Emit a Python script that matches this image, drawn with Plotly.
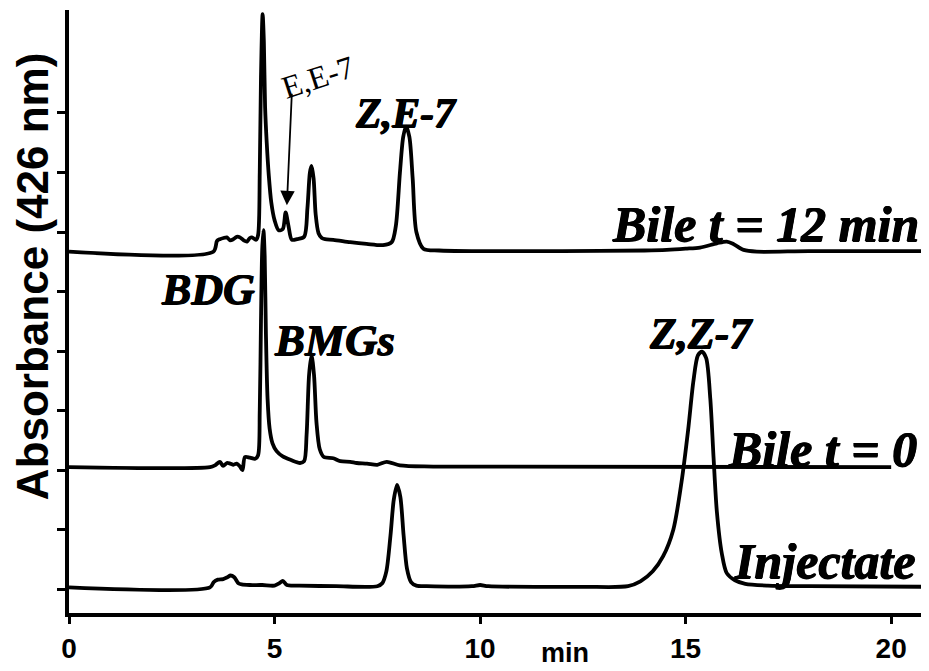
import plotly.graph_objects as go

# ---- data (retention time in min, absorbance in tick units) ----
inj_t = [0, 3.43, 3.52, 3.62, 3.75, 3.85, 3.93, 4.02, 4.12, 4.2, 4.4, 4.7, 5.0, 5.12, 5.2, 5.3, 5.6, 6.5,
         7.5, 7.62, 7.72, 7.82, 7.9, 7.98, 8.06, 8.14, 8.22, 8.32, 8.45, 8.7, 9.8, 10.0, 10.2, 12.5,
         13.6, 13.9, 14.2, 14.45, 14.7, 14.9, 15.06, 15.19, 15.3, 15.4, 15.5, 15.6, 15.68, 15.76, 15.88,
         16.0, 16.2, 16.45, 17.0, 18.0, 20.9]
inj_y = [0.03, 0.03, 0.12, 0.16, 0.17, 0.2, 0.23, 0.2, 0.1, 0.08, 0.07, 0.07, 0.06, 0.1, 0.14, 0.07, 0.06, 0.05,
         0.05, 0.1, 0.3, 0.9, 1.5, 1.75, 1.55, 0.9, 0.35, 0.12, 0.06, 0.05, 0.05, 0.07, 0.05, 0.04,
         0.05, 0.13, 0.3, 0.55, 1.0, 1.8, 2.67, 3.5, 3.93, 3.99, 3.88, 3.2, 2.2, 1.3, 0.6,
         0.27, 0.15, 0.09, 0.06, 0.05, 0.04]

bile0_t = [0, 3.43, 3.55, 3.67, 3.75, 3.84, 3.92, 4.0, 4.08, 4.16, 4.22, 4.28, 4.4, 4.53, 4.6, 4.64, 4.67,
           4.7, 4.73, 4.76, 4.79, 4.83, 4.88, 4.95, 5.05, 5.2, 5.4, 5.62, 5.72, 5.78, 5.84, 5.9, 5.96,
           6.02, 6.1, 6.2, 6.43, 6.6, 6.84, 7.0, 7.25, 7.5, 7.73, 8.05, 8.86, 20.0]
bile0_y = [2.05, 2.05, 2.08, 2.14, 2.07, 2.12, 2.11, 2.09, 2.11, 2.06, 2.0, 2.22, 2.21, 2.19, 2.25, 3.0, 4.5,
           5.7, 6.03, 5.6, 4.3, 3.2, 2.7, 2.45, 2.32, 2.23, 2.17, 2.12, 2.15, 2.6, 3.6, 3.93, 3.6,
           2.8, 2.35, 2.22, 2.2, 2.15, 2.14, 2.12, 2.11, 2.09, 2.14, 2.08, 2.06, 2.05]

bile12_t = [0, 3.51, 3.6, 3.67, 3.76, 3.84, 3.92, 4.0, 4.08, 4.16, 4.25, 4.33, 4.4, 4.45, 4.55, 4.6, 4.64,
            4.67, 4.71, 4.74, 4.77, 4.81, 4.86, 4.92, 5.0, 5.1, 5.2, 5.27, 5.34, 5.42, 5.55, 5.72, 5.8,
            5.86, 5.9, 5.95, 6.0, 6.07, 6.15, 6.23, 6.43, 6.84, 7.24, 7.64, 7.85, 7.95, 8.05, 8.13, 8.2,
            8.28, 8.36, 8.45, 8.62, 9.0, 10.0, 12.0, 14.0, 14.54, 15.0, 15.35, 15.76, 16.0, 16.16, 16.41,
            16.73, 18.0, 20.9]
bile12_y = [5.67, 5.67, 5.85, 5.88, 5.9, 5.91, 5.86, 5.88, 5.92, 5.91, 5.86, 5.84, 5.9, 5.91, 5.87, 5.95, 7.0,
            8.6, 9.66, 9.2, 8.1, 7.5, 6.95, 6.5, 6.2, 6.03, 6.05, 6.33, 6.1, 5.87, 5.88, 5.92, 6.4,
            7.0, 7.11, 6.9, 6.3, 5.98, 5.9, 5.88, 5.87, 5.83, 5.8, 5.78, 5.83, 6.1, 7.0, 7.6, 7.77,
            7.6, 6.9, 6.0, 5.72, 5.69, 5.68, 5.68, 5.69, 5.70, 5.72, 5.74, 5.81, 5.84, 5.8, 5.7,
            5.67, 5.68, 5.68]

x_ticks = [0, 5, 10, 15, 20]
y_ticks = [0, 1, 2, 3, 4, 5, 6, 7, 8]

# ---- figure ----
fig = go.Figure()
for t, y in [(bile12_t, bile12_y), (bile0_t, bile0_y), (inj_t, inj_y)]:
    fig.add_trace(go.Scatter(x=t, y=y, mode="lines", hoverinfo="skip",
                             line=dict(color="black", width=3.8, shape="spline", smoothing=0.8)))

SERIF = "Liberation Serif"
HEAVY = "0.6px 0 0 black, -0.6px 0 0 black, 0 0.5px 0 black"

def lab(text, x, y, size, xanchor="center"):
    fig.add_annotation(x=x, y=y, text="<b><i>" + text + "</i></b>", showarrow=False,
                       xanchor=xanchor, yanchor="middle",
                       font=dict(family=SERIF, size=size, color="black", shadow=HEAVY))

lab("BDG", 3.38, 5.04, 44)
lab("BMGs", 6.47, 4.18, 45)
lab("Z,E-7", 8.2, 8.0, 42)
lab("Z,Z-7", 15.38, 4.29, 44)
lab("Bile t = 12 min", 20.72, 6.13, 50, xanchor="right")
lab("Bile t = 0", 20.68, 2.35, 50, xanchor="right")
lab("Injectate", 20.66, 0.47, 50, xanchor="right")

# E,E-7 rotated label and arrow
fig.add_annotation(x=6.06, y=8.6, text="E,E-7", showarrow=False, textangle=-18,
                   font=dict(family=SERIF, size=32, color="black"))
fig.add_annotation(x=5.30, y=6.45, text="", showarrow=True, ax=5, ay=-113,
                   arrowhead=2, arrowsize=1.6, arrowwidth=1.8, arrowcolor="black", standoff=0)

# y-axis title
fig.add_annotation(xref="paper", yref="paper", x=0, y=0.557, xshift=-37, xanchor="center",
                   yanchor="middle", text="<b>Absorbance (426 nm)</b>",
                   showarrow=False, textangle=-90,
                   font=dict(family="Liberation Sans", size=44, color="black"))
# "min" label
fig.add_annotation(xref="x", yref="paper", x=12.07, y=0, yshift=-40, xanchor="center",
                   yanchor="middle", text="<b>min</b>", showarrow=False,
                   font=dict(family="Liberation Sans", size=27, color="black"))

fig.update_xaxes(range=[0, 20.92], tickvals=x_ticks, ticktext=["<b>%d</b>" % v for v in x_ticks],
                 showline=True, linecolor="black", linewidth=4, ticks="outside", ticklen=7,
                 tickwidth=2.5, tickcolor="black", showgrid=False, zeroline=False,
                 tickfont=dict(family="Liberation Sans", size=28, color="black"))
fig.update_yaxes(range=[-0.40, 9.73], tickvals=y_ticks, showticklabels=False,
                 showline=True, linecolor="black", linewidth=4, ticks="outside", ticklen=8,
                 tickwidth=2.5, tickcolor="black", showgrid=False, zeroline=False)

# page body has an 8px margin: size/offset the figure so the plot lands where the reference has it
fig.update_layout(width=921, height=663, margin=dict(l=61, r=0, t=2, b=58),
                  paper_bgcolor="white", plot_bgcolor="white", showlegend=False)

fig.write_html("out.html")
